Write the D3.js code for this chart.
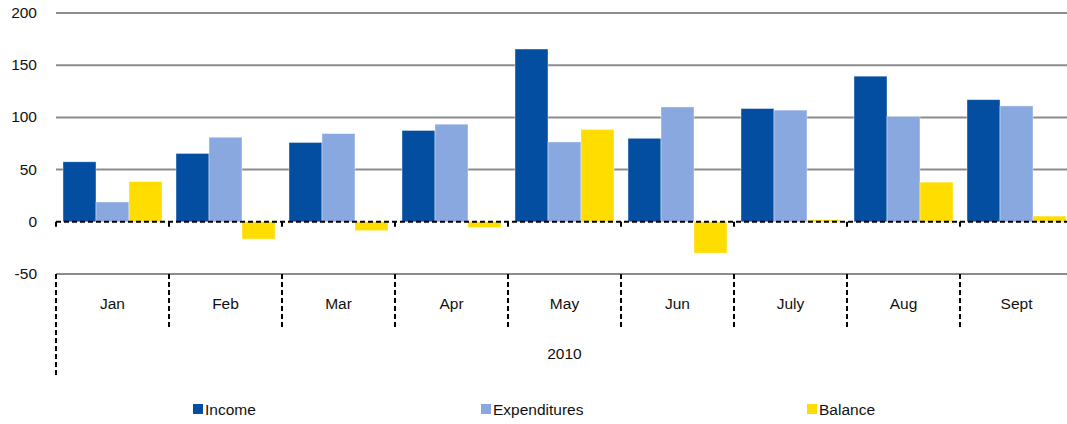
<!DOCTYPE html>
<html>
<head>
<meta charset="utf-8">
<script src="https://cdn.jsdelivr.net/npm/d3@7"></script>
<style>
  body { margin: 0; background: #fff; }
  svg { display: block; font-family: "Liberation Sans", Arial, sans-serif; }
</style>
</head>
<body>
<svg id="canvas" width="1067" height="424"></svg>
<script>
const months = ["Jan", "Feb", "Mar", "Apr", "May", "Jun", "July", "Aug", "Sept"];
const seriesNames = ["Income", "Expenditures", "Balance"];
const income = [57.5, 65.5, 76, 87.5, 165.5, 80, 108.5, 139.5, 117];
const expenditures = [19, 81, 84.5, 93.5, 76.5, 110, 107, 101, 111];
const balance = [38.5, -16.5, -8.5, -5.5, 88.5, -30, 2, 38, 5.5];
const yTicks = [-50, 0, 50, 100, 150, 200];
const yearLabel = "2010";

const colors = ["#044ea1", "#8aa8e0", "#ffdd00"];
const seriesValues = [income, expenditures, balance];

const canvas = d3.select("#canvas");

const left = 56;
const bandW = 113;

const x = d3.scaleBand()
  .domain(months)
  .range([left, left + bandW * months.length])
  .paddingInner(0)
  .paddingOuter(0);

const xInner = d3.scaleBand()
  .domain(seriesNames)
  .range([0, x.bandwidth()])
  .paddingOuter(0.212)
  .paddingInner(0);

const y = d3.scaleLinear().domain([-50, 200]).range([274, 13]);

// gridlines
canvas.append("g")
  .selectAll("line")
  .data(yTicks.filter((t) => t !== 0))
  .enter()
  .append("line")
  .attr("x1", left)
  .attr("x2", 1067)
  .attr("y1", (t) => y(t))
  .attr("y2", (t) => y(t))
  .attr("stroke", "#8c8c8c")
  .attr("stroke-width", 2);

// y labels
canvas.append("g")
  .selectAll("text")
  .data(yTicks)
  .enter()
  .append("text")
  .attr("x", 37)
  .attr("y", (t) => y(t) + 5)
  .attr("text-anchor", "end")
  .attr("font-size", 15.5)
  .attr("fill", "#111")
  .text((t) => t);

// bars
const groups = canvas.append("g")
  .selectAll("g")
  .data(months)
  .enter()
  .append("g")
  .attr("transform", (m) => `translate(${x(m)},0)`);

groups.selectAll("rect")
  .data((m, i) => seriesNames.map((s, k) => ({ s: s, v: seriesValues[k][i], c: colors[k] })))
  .enter()
  .append("rect")
  .attr("x", (d) => xInner(d.s))
  .attr("width", xInner.bandwidth())
  .attr("y", (d) => y(Math.max(0, d.v)))
  .attr("height", (d) => Math.abs(y(d.v) - y(0)))
  .attr("fill", (d) => d.c)
  .attr("stroke", "rgba(255,255,255,0.5)")
  .attr("stroke-width", 0.8);

// zero line (dashed)
canvas.append("line")
  .attr("x1", left)
  .attr("x2", 1067)
  .attr("y1", y(0))
  .attr("y2", y(0))
  .attr("stroke", "#000")
  .attr("stroke-width", 2)
  .attr("stroke-dasharray", "5,3");

// small ticks on zero line
const bounds = months.map((m) => x(m));
canvas.append("g")
  .selectAll("line")
  .data(bounds)
  .enter()
  .append("line")
  .attr("x1", (b) => b)
  .attr("x2", (b) => b)
  .attr("y1", y(0))
  .attr("y2", y(0) + 5)
  .attr("stroke", "#000")
  .attr("stroke-width", 2);

// category separators below axis
canvas.append("g")
  .selectAll("line")
  .data(bounds)
  .enter()
  .append("line")
  .attr("x1", (b) => b)
  .attr("x2", (b) => b)
  .attr("y1", y(-50))
  .attr("y2", (b, i) => (i === 0 ? 378 : 327))
  .attr("stroke", "#000")
  .attr("stroke-width", 2)
  .attr("stroke-dasharray", "5,3");

// month labels
canvas.append("g")
  .selectAll("text")
  .data(months)
  .enter()
  .append("text")
  .attr("x", (m) => x(m) + x.bandwidth() / 2)
  .attr("y", 309)
  .attr("text-anchor", "middle")
  .attr("font-size", 15.5)
  .attr("fill", "#111")
  .text((m) => m);

canvas.append("text")
  .attr("x", (x.range()[0] + x.range()[1]) / 2)
  .attr("y", 359)
  .attr("text-anchor", "middle")
  .attr("font-size", 15.5)
  .attr("fill", "#111")
  .text(yearLabel);

// legend
const legendX = [193, 481, 807];
const legend = canvas.append("g")
  .selectAll("g")
  .data(seriesNames)
  .enter()
  .append("g")
  .attr("transform", (s, i) => `translate(${legendX[i]},404)`);

legend.append("rect")
  .attr("width", 10)
  .attr("height", 10)
  .attr("fill", (s, i) => colors[i]);

legend.append("text")
  .attr("x", 12)
  .attr("y", 10.5)
  .attr("font-size", 15.5)
  .attr("fill", "#111")
  .text((s) => s);
</script>
</body>
</html>
